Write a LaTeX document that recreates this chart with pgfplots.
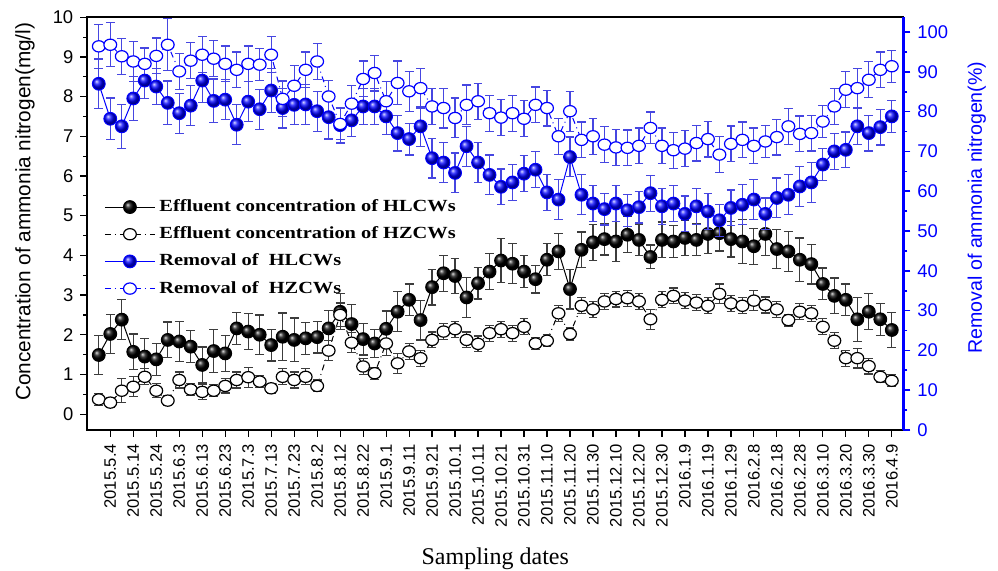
\documentclass[border=0pt]{standalone}
\usepackage{pgfplots}
\pgfplotsset{compat=1.18}
\usepackage{pgfplotstable}
\usepackage{fontspec}
\setmainfont{Liberation Sans}
\newfontfamily\tnr{Liberation Serif}
\newfontfamily\tnrw[FakeStretch=1.2]{Liberation Serif}
\definecolor{eblue}{RGB}{70,70,225}
\definecolor{egray}{RGB}{60,60,60}

\pgfplotstableread{
x hl hle hz hze rl rle rz rze
0 1.49 0.50 0.37 0.15 87.0 6.2 96.4 5.5
1 2.02 0.50 0.29 0.12 78.2 5.2 96.8 5.5
2 2.38 0.50 0.59 0.30 76.3 5.5 93.9 4.5
3 1.57 0.45 0.69 0.25 83.3 5.5 92.6 5.0
4 1.45 0.45 0.94 0.20 87.8 4.5 92.0 4.0
5 1.38 0.40 0.59 0.18 86.3 4.5 94.0 4.5
6 1.87 0.45 0.34 0.12 82.2 5.5 96.8 6.5
7 1.83 0.50 0.86 0.20 79.6 5.0 90.1 4.5
8 1.70 0.40 0.62 0.15 81.5 5.0 92.8 4.5
9 1.24 0.45 0.56 0.20 87.8 5.5 94.3 4.5
10 1.59 0.55 0.59 0.15 82.7 5.5 93.3 4.5
11 1.53 0.45 0.71 0.18 83.0 5.0 92.0 4.5
12 2.16 0.40 0.86 0.20 76.7 5.0 90.5 4.5
13 2.08 0.45 0.93 0.25 82.5 5.0 92.0 4.5
14 2.00 0.50 0.82 0.15 80.6 5.0 91.8 4.0
15 1.74 0.40 0.65 0.12 85.3 5.5 94.3 4.5
16 1.95 0.60 0.94 0.20 80.9 5.0 83.2 4.5
17 1.87 0.55 0.86 0.20 81.7 5.0 86.5 5.0
18 1.91 0.40 0.94 0.20 81.8 5.0 90.5 4.5
19 1.94 0.40 0.71 0.15 80.1 5.0 92.6 4.5
20 2.16 0.45 1.60 0.25 78.6 5.5 83.8 4.0
21 2.58 0.45 2.50 0.30 76.6 4.5 76.9 4.0
22 2.27 0.50 1.80 0.25 77.8 4.0 82.0 4.5
23 1.89 0.40 1.20 0.20 81.3 4.5 88.2 4.5
24 1.78 0.35 1.03 0.15 81.3 4.5 89.7 4.5
25 2.15 0.45 1.78 0.30 78.8 4.5 82.6 5.0
26 2.58 0.50 1.28 0.25 74.6 4.5 87.2 5.5
27 2.88 0.40 1.58 0.20 73.1 4.0 85.1 5.0
28 2.37 0.50 1.41 0.20 76.3 5.0 85.9 5.0
29 3.20 0.45 1.87 0.20 68.3 5.0 81.3 4.5
30 3.55 0.45 2.08 0.20 67.2 5.0 80.9 5.0
31 3.48 0.45 2.14 0.20 64.6 5.0 78.4 5.0
32 2.94 0.50 1.87 0.20 71.3 5.0 81.7 5.0
33 3.30 0.40 1.77 0.20 67.2 5.0 82.6 4.5
34 3.59 0.45 2.04 0.20 64.1 5.0 79.6 4.5
35 3.87 0.55 2.14 0.20 61.1 4.5 78.5 4.5
36 3.79 0.50 2.04 0.20 62.2 4.5 79.6 4.5
37 3.59 0.40 2.20 0.20 64.4 4.5 78.2 4.5
38 3.40 0.35 1.78 0.15 65.4 4.5 81.7 4.5
39 3.89 0.40 1.85 0.15 59.7 4.5 80.9 4.5
40 4.10 0.45 2.54 0.20 57.9 5.0 73.8 4.5
41 3.15 0.50 2.02 0.15 68.6 5.0 80.1 5.0
42 4.14 0.45 2.73 0.20 59.1 5.0 72.9 4.5
43 4.33 0.45 2.64 0.20 56.9 4.5 73.8 4.5
44 4.41 0.40 2.84 0.20 55.5 4.0 71.7 4.5
45 4.35 0.50 2.90 0.20 56.9 4.5 71.0 4.5
46 4.52 0.45 2.92 0.20 55.2 4.0 70.9 4.5
47 4.39 0.40 2.84 0.20 56.0 4.0 71.4 4.5
48 3.96 0.30 2.39 0.25 59.5 4.5 75.9 4.0
49 4.39 0.45 2.88 0.20 56.2 4.5 71.4 4.5
50 4.35 0.40 2.98 0.20 56.9 4.5 70.3 4.5
51 4.44 0.45 2.86 0.20 54.3 4.5 70.7 4.5
52 4.39 0.40 2.81 0.20 56.2 4.5 72.1 4.5
53 4.54 0.50 2.73 0.20 54.9 4.5 73.1 4.5
54 4.56 0.45 3.03 0.25 52.7 4.0 69.2 4.5
55 4.41 0.45 2.79 0.20 55.8 4.5 71.9 4.5
56 4.35 0.55 2.73 0.20 56.6 5.0 72.9 4.5
57 4.23 0.45 2.86 0.25 57.9 5.0 71.4 4.5
58 4.54 0.55 2.75 0.20 54.3 4.0 72.5 4.0
59 4.16 0.50 2.64 0.20 58.3 5.0 73.6 4.5
60 4.10 0.50 2.37 0.15 59.1 5.0 76.3 4.5
61 3.89 0.55 2.58 0.20 61.2 5.0 74.4 4.5
62 3.78 0.50 2.54 0.20 62.2 5.0 74.6 4.5
63 3.28 0.40 2.20 0.20 66.7 4.0 77.5 4.0
64 2.98 0.45 1.85 0.20 70.0 4.5 81.3 4.5
65 2.88 0.40 1.41 0.20 70.4 4.5 85.5 4.5
66 2.39 0.55 1.41 0.25 76.3 4.5 85.9 5.0
67 2.58 0.45 1.21 0.20 74.6 4.5 88.0 4.5
68 2.39 0.40 0.94 0.15 76.1 4.5 90.5 4.5
69 2.12 0.45 0.84 0.15 78.8 4.0 91.4 4.0
}\data

\pgfplotsset{
  common/.style={
    at={(0,0)}, anchor=south west,
    scale only axis, width=408pt, height=206.35pt,
    xmin=-1, xmax=70,
    tick align=outside,
    major tick length=3.5pt, minor tick length=2pt,
    /pgf/number format/assume math mode=true,
  },
  ebk/.style={error bars/.cd, y dir=both, y explicit,
    error bar style={egray, solid, line width=0.6pt},
    error mark options={rotate=90, egray, solid, mark size=2.2pt, line width=0.6pt}},
  ebl/.style={error bars/.cd, y dir=both, y explicit,
    error bar style={eblue, solid, line width=0.6pt},
    error mark options={rotate=90, eblue, solid, mark size=2.2pt, line width=0.6pt}},
  sHL/.style={black, line width=0.5pt, mark=ball, mark size=3.2pt, mark options={ball color=black}},
  sHZ/.style={black, line width=0.5pt, dash dot, mark=*, mark size=3.2pt, mark options={solid, fill=white, draw=black, line width=0.6pt, yscale=0.88}},
  sRL/.style={blue, line width=0.5pt, mark=ball, mark size=3.2pt, mark options={ball color=blue}},
  sRZ/.style={blue, line width=0.5pt, dash dot, mark=*, mark size=3.2pt, mark options={solid, fill=white, draw=blue, line width=0.6pt, yscale=0.88}},
}

\begin{document}
\begin{tikzpicture}
\useasboundingbox (-43.65pt,-70.5pt) rectangle (455.35pt,215pt);
\begin{axis}[
  common,
  ymin=-0.4, ymax=10,
  xtick={1,3,...,69},
  xticklabels={2015.5.4,2015.5.14,2015.5.24,2015.6.3,2015.6.13,2015.6.23,2015.7.3,2015.7.13,2015.7.23,2015.8.2,2015.8.12,2015.8.22,2015.9.1,2015.9.11,2015.9.21,2015.10.1,2015.10.11,2015.10.21,2015.10.31,2015.11.10,2015.11.20,2015.11.30,2015.12.10,2015.12.20,2015.12.30,2016.1.9,2016.1.19,2016.1.29,2016.2.8,2016.2.18,2016.2.28,2016.3.10,2016.3.20,2016.3.30,2016.4.9},
  xtick pos=bottom, ytick pos=left,
  ytick={0,...,10}, minor y tick num=1,
  axis line style={line width=0.8pt},
  every tick/.style={black, line width=0.6pt},
  yticklabel style={font=\fontsize{9.2}{11}\selectfont},
  xticklabel style={rotate=90, anchor=east, font=\fontsize{8.3}{10}\selectfont},
  ylabel={Concentration of ammonia nitrogen(mg/l)},
  every axis y label/.style={at={(axis description cs:-0.0763,0.529)}, rotate=90, anchor=center, font=\fontsize{10.4}{12}\selectfont},
  xlabel={Sampling dates},
  every axis x label/.style={at={(axis description cs:0.5,-0.3126)}, anchor=center, font=\tnr\fontsize{12}{14}\selectfont},
]
\addplot[sHL, ebk] table[x=x, y=hl, y error=hle] {\data};
\addplot[sHZ, ebk] table[x=x, y=hz, y error=hze] {\data};
\end{axis}
\begin{axis}[
  common,
  ymin=0, ymax=103.7,
  axis x line=none, axis y line*=right,
  y axis line style={blue, line width=1.2pt},
  ytick={0,10,...,100}, minor y tick num=1,
  every tick/.style={blue, line width=0.8pt},
  yticklabel style={blue, font=\fontsize{9.2}{11}\selectfont},
  ylabel={Removal of ammonia nitrogen(\%)},
  every axis y label/.style={at={(axis description cs:1.090,0.539)}, rotate=90, anchor=center, blue, font=\fontsize{9.8}{12}\selectfont},
  legend style={at={(0.021,0.568)}, anchor=north west, draw=none, fill=none, inner sep=0pt, outer sep=0pt, row sep=2.1pt, font=\tnrw\bfseries\fontsize{8.5}{10}\selectfont, cells={anchor=west}},
  legend image code/.code={\draw[mark repeat=2,mark phase=2,#1] plot coordinates {(0pt,0pt) (12.5pt,0pt) (25pt,0pt)};},
]
\addlegendimage{sHL}
\addlegendentry{Effluent concentration of HLCWs}
\addlegendimage{sHZ}
\addlegendentry{Effluent concentration of HZCWs}
\addplot[sRL, ebl] table[x=x, y=rl, y error=rle] {\data};
\addlegendentry{Removal of\ \ HLCWs}
\addplot[sRZ, ebl] table[x=x, y=rz, y error=rze] {\data};
\addlegendentry{Removal of\ \ HZCWs}
\end{axis}
\end{tikzpicture}
\end{document}
